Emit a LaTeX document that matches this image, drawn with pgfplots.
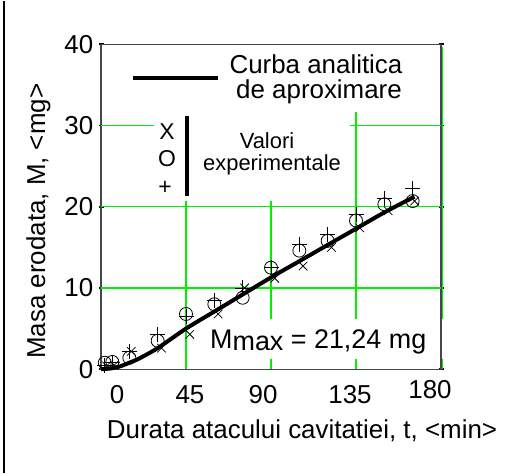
\documentclass[border=0pt]{standalone}
\usepackage{pgfplots}
\pgfplotsset{compat=1.18}
\usepackage{fontspec}
\setmainfont{Liberation Sans}
\definecolor{gridgreen}{RGB}{0,240,0}
\definecolor{axgray}{RGB}{70,70,70}
\newcommand{\fs}[1]{\fontsize{#1}{#1}\selectfont}
\begin{document}
\begin{tikzpicture}[x=1bp,y=1bp]
\path (0,0) rectangle (517,472);
\draw[line width=2.5bp] (4,0) -- (4,472);
\begin{axis}[
  at={(101bp,104bp)}, anchor=south west,
  scale only axis, width=340bp, height=325bp,
  xmin=0, xmax=180, ymin=0, ymax=40,
  xtick={0,45,90,135,180}, xticklabels={},
  ytick={0,10,20,30,40},
  major x tick style={draw=none},
  major y tick style={black, line width=1.6bp},
  tick align=center, major tick length=5bp,
  axis line style={axgray, line width=1.3bp},
  /pgf/number format/assume math mode=true,
  yticklabel style={font=\fs{26}, inner sep=5bp},
  clip=false,
]
% partial green grid lines
\draw[gridgreen, line width=1.3bp] (axis cs:45,0) -- (axis cs:45,20.7);
\draw[gridgreen, line width=1.3bp] (axis cs:90,0) -- (axis cs:90,1.25);
\draw[gridgreen, line width=1.3bp] (axis cs:90,6.15) -- (axis cs:90,20.7);
\draw[gridgreen, line width=1.3bp] (axis cs:135,0) -- (axis cs:135,1.25);
\draw[gridgreen, line width=1.3bp] (axis cs:135,6.15) -- (axis cs:135,31.7);
\draw[gridgreen, line width=1.3bp, xshift=1.2bp] (axis cs:180,0) -- (axis cs:180,1.25);
\draw[gridgreen, line width=1.3bp, xshift=1.2bp] (axis cs:180,6.15) -- (axis cs:180,39.7);
\draw[gridgreen, line width=1.3bp] (axis cs:0,10) -- (axis cs:180,10);
\draw[gridgreen, line width=1.3bp] (axis cs:0,20) -- (axis cs:180,20);
\draw[gridgreen, line width=1.3bp] (axis cs:0,30) -- (axis cs:28,30);
\draw[gridgreen, line width=1.3bp] (axis cs:132,30) -- (axis cs:180,30);
\addplot[black, line width=4bp, smooth] coordinates {
(0,0) (5,0.1) (10,0.35) (15,0.8) (20,1.3) (30,2.6) (45,5.0) (60,7.1) (75,9.2) (90,11.3) (105,13.3) (120,15.3) (135,17.3) (150,19.3) (166,21.24)};
\addplot[only marks, mark=+, mark size=7.5bp, mark options={black, line width=0.8bp}] coordinates {
(2,0.5) (6,0.8) (15,2.2) (30,4.3) (45,6.5) (60,8.5) (75,10.0) (90,12.5) (105,15.4) (120,16.6) (135,19.1) (150,21.0) (165,22.2)};
\addplot[only marks, mark=o, mark size=6.5bp, mark options={black, line width=0.8bp}] coordinates {
(2,0.8) (6,0.9) (15,1.4) (30,3.5) (45,6.8) (60,8.0) (75,8.8) (90,12.5) (105,14.6) (120,15.8) (135,18.3) (150,20.3) (165,20.7)};
\addplot[only marks, mark=x, mark size=6bp, mark options={black, line width=0.8bp}] coordinates {
(3,0.4) (7,0.5) (16,2.2) (32,2.6) (47,4.3) (62,6.8) (76,10.0) (92,11.2) (107,12.7) (122,15.0) (137,17.4) (152,19.5) (166,20.7)};
\end{axis}
% x tick labels
\node[anchor=base, font=\fs{26}] at (117,70) {0};
\node[anchor=base, font=\fs{26}] at (190,70) {45};
\node[anchor=base, font=\fs{26}] at (263,70) {90};
\node[anchor=base, font=\fs{26}] at (350,70) {135};
\node[anchor=base, font=\fs{26}] at (430,75) {180};
% axis labels
\node[anchor=base, font=\fs{26}] at (302,35) {Durata atacului cavitatiei, t, <min>};
\node[anchor=base, rotate=90, font=\fs{26}] at (45,252) {Masa erodata, M, <mg>};
% legend
\draw[black, line width=4bp] (133,395) -- (218,395);
\node[anchor=base, font=\fs{26}] at (316,400) {Curba analitica};
\node[anchor=base, font=\fs{26}] at (319,375) {de aproximare};
\node[font=\fs{23}] at (167,342) {X};
\node[font=\fs{23}] at (167,315) {O};
\node[font=\fs{23}] at (165,285) {+};
\draw[black, line width=3.5bp] (187,357) -- (187,277);
\node[anchor=base, font=\fs{22}] at (267,325) {Valori};
\node[anchor=base, font=\fs{22}] at (272,303) {experimentale};
\node[anchor=base west, font=\fs{27}, inner sep=0pt] at (210,125) {M\raisebox{-2bp}{max} = 21,24 mg};
\end{tikzpicture}
\end{document}
